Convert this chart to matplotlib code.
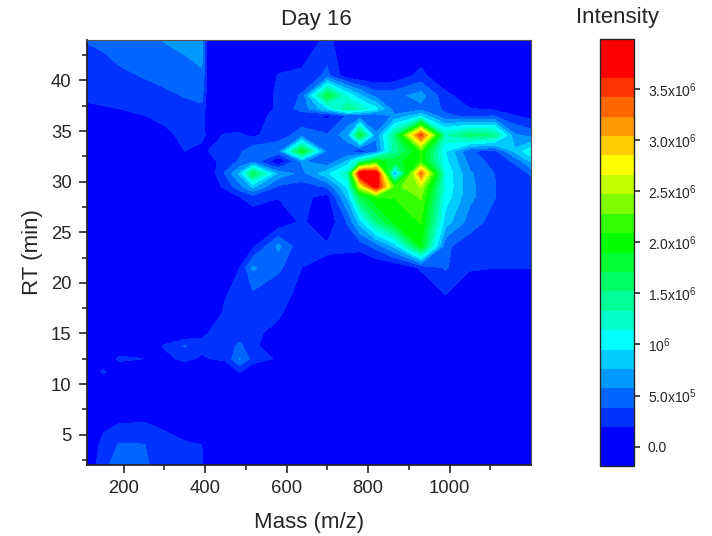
import numpy as np
import matplotlib
matplotlib.use('Agg')
import matplotlib.pyplot as plt

plt.rcParams['font.family'] = ['Liberation Sans', 'DejaVu Sans']
plt.rcParams['mathtext.default'] = 'regular'

# values, intensity in units of 1e5
mass = [110, 150, 190, 250, 300, 350, 392, 410, 450, 485, 517, 580, 637, 700, 750, 780, 820, 865, 930, 990, 1050, 1110, 1160, 1200]
rt = [44, 40.5, 38.5, 37.2, 36.5, 34.6, 33, 32, 30.8, 29.5, 28.5, 26, 23.6, 21.5, 19, 17, 15, 13.8, 12.5, 11.2, 10, 8, 6, 4, 2]
intensity = [
    [3.9, 4.1, 4.6, 5.3, 5.8, 6.2, 6.4, 0, 0, 0, 0, 0, 0, 2.6, 0, 0, 0, 0, 0, 0, 0, 0, 0, 0],
    [2.8, 3.2, 3.5, 3.9, 4.4, 5, 5.5, 0, 0, 0, 0, 2.0, 2.4, 4.2, .5, 0, 0, .5, 2.5, 0, 0, 0, 0, 0],
    [2.2, 2.6, 3, 3.2, 3.4, 3.9, 4.3, 0, 0, 0, 0, 2.4, 4, 18, 11, 8, 5, 5, 6.5, 2.5, .5, 0, 0, 0],
    [1.6, 1.7, 1.9, 2.4, 2.8, 3.2, 3.4, 0, 0, 0, 0, 2.4, 4.5, 9, 15, 13, 10, 4.5, 5, 3.5, 2, 1.5, .5, 0],
    [1.2, 1.4, 1.6, 1.85, 2.3, 2.6, 3, 0, 0, 0, 1.5, 2.2, 2.8, 1.5, 4, 4, 4, 6, 9, 4, 3.5, 3.8, 2, 1.3],
    [.5, .5, .6, .8, 1.5, 2.3, 2.6, 1, 2.1, 2.2, 1.5, 3, 4.5, 4, 7, 18, 6, 15, 35, 13, 16, 15, 6, 5],
    [0, 0, 0, 0, .3, 1.9, 1, 2, 3, 3.5, 5, 5, 19, 5, 4, 2, 5, 14, 21, 9.5, 4, 3, 8, 11],
    [0, 0, 0, 0, 0, 0, .8, 1, 3, 4, 5, 0, 6, 4, 8, 14, 20, 18, 21, 10, 5, 3, 4, 8],
    [0, 0, 0, 0, 0, 0, 0, .5, 4, 8, 17, 7, 5, 9, 13, 39.5, 39.5, 6, 33, 11, 6, 3.8, 3, 4],
    [0, 0, 0, 0, 0, 0, 0, .3, 2.5, 5, 8, 3.5, 3, 4, 10, 26, 38, 22, 25, 11, 6.2, 3.9, 2.6, 3],
    [0, 0, 0, 0, 0, 0, 0, 0, 0, 1.9, 3, 2, 2.4, 1.2, 8, 17, 21, 21, 23, 10.5, 6.2, 3.9, 2.5, 2],
    [0, 0, 0, 0, 0, 0, 0, 0, 0, 0, 0, .5, 2.2, .5, 4, 8.5, 15, 19.5, 21, 8.5, 4.8, 3, 2.3, 2],
    [0, 0, 0, 0, 0, 0, 0, 0, .5, .3, 1.5, 6.2, 2.2, 2.2, 2.5, 2.5, 4.5, 8, 19, 4.2, 2.6, 2.4, 2, 2],
    [0, 0, 0, 0, 0, 0, 0, 0, .5, 1.9, 6, 4.2, 1.9, 1.4, .5, 0, 0, 0, 2.2, 4, 2.2, 1.95, 1.95, 1.95],
    [0, 0, 0, 0, 0, 0, 0, 0, 1.8, 2.3, 3.6, 2.5, 1.5, 0, 0, 0, 0, 0, 0, 2.1, 0, 0, 0, 0],
    [0, 0, 0, 0, 0, 0, 0, .8, 2.2, 2.4, 2.6, 2.3, 0, 0, 0, 0, 0, 0, 0, 0, 0, 0, 0, 0],
    [0, 0, 0, 0, 0, 0, 1.5, 2, 2.5, 2.8, 2.5, 1, 0, 0, 0, 0, 0, 0, 0, 0, 0, 0, 0, 0],
    [0, 0, 0, 0, 2.1, 4, 2.5, 2.6, 2.8, 4.2, 2.4, .3, 0, 0, 0, 0, 0, 0, 0, 0, 0, 0, 0, 0],
    [0, 0, 2.4, 1.9, 1.3, 2.4, 1.6, 1.9, 2.3, 5.8, 3, 1.6, 0, 0, 0, 0, 0, 0, 0, 0, 0, 0, 0, 0],
    [0, 2.3, 0, 0, 0, 0, 0, 0, 0, 2, 0, 0, 0, 0, 0, 0, 0, 0, 0, 0, 0, 0, 0, 0],
    [0, 0, 0, 0, 0, 0, 0, 0, 0, 0, 0, 0, 0, 0, 0, 0, 0, 0, 0, 0, 0, 0, 0, 0],
    [0, 0, 0, 0, 0, 0, 0, 0, 0, 0, 0, 0, 0, 0, 0, 0, 0, 0, 0, 0, 0, 0, 0, 0],
    [0, 1.4, 2, 2.1, 1.5, 1, .5, 0, 0, 0, 0, 0, 0, 0, 0, 0, 0, 0, 0, 0, 0, 0, 0, 0],
    [0, 2.6, 3.95, 3.85, 2.8, 2.1, 1.9, 0, 0, 0, 0, 0, 0, 0, 0, 0, 0, 0, 0, 0, 0, 0, 0, 0],
    [0, 3.4, 4.5, 4, 3.2, 2.5, 2.2, 0, 0, 0, 0, 0, 0, 0, 0, 0, 0, 0, 0, 0, 0, 0, 0, 0],
]

# contour bands of the colour scale
levels = [-1.9e5, 1.9e5, 3.8e5, 5.7e5, 7.6e5, 9.5e5, 11.4e5, 13.3e5, 15.2e5, 17.1e5, 19e5,
          20.9e5, 22.8e5, 24.7e5, 26.6e5, 28.5e5, 30.4e5, 32.3e5, 34.2e5, 36.1e5, 39.9e5]
band_colors = ['#0000ff', '#0033ff', '#0066ff', '#0099ff', '#00ccff', '#00ffff', '#00ffcc',
               '#00ff99', '#00ff66', '#00ff33', '#00ff00', '#33ff00', '#80ff00', '#c0ff00',
               '#ffff00', '#ffcc00', '#ff9900', '#ff6600', '#ff3300', '#ff0000']
cbar_ticks = [0, 5e5, 10e5, 15e5, 20e5, 25e5, 30e5, 35e5]
cbar_labels = ['0.0', '5.0x10$^{5}$', '10$^{6}$', '1.5x10$^{6}$', '2.0x10$^{6}$',
               '2.5x10$^{6}$', '3.0x10$^{6}$', '3.5x10$^{6}$']

W, H = 712, 536
TXT = '#262626'

fig = plt.figure(figsize=(W / 100, H / 100), dpi=100)
ax = fig.add_axes([87 / W, 1 - 465 / H, 444 / W, 425 / H])

z = np.array(intensity)[::-1] * 1e5
cf = ax.contourf(mass, np.array(rt)[::-1], z, levels=levels, colors=band_colors)

ax.set_xlim(110, 1200)
ax.set_ylim(2, 44)
ax.set_xticks([200, 400, 600, 800, 1000])
ax.set_xticks([300, 500, 700, 900, 1100], minor=True)
ax.set_yticks([5, 10, 15, 20, 25, 30, 35, 40])
ax.set_yticks([2.5, 7.5, 12.5, 17.5, 22.5, 27.5, 32.5, 37.5, 42.5], minor=True)
ax.tick_params(which='major', length=6, width=1.2, labelsize=13.3, labelcolor=TXT, color=TXT, pad=5)
ax.tick_params(which='minor', length=3.5, width=1.2, color=TXT)
ax.spines['left'].set_linewidth(1.3)
ax.spines['bottom'].set_linewidth(1.3)
ax.spines['top'].set_linewidth(0.8)
ax.spines['right'].set_linewidth(0.8)
for s in ['left', 'bottom']:
    ax.spines[s].set_color(TXT)
for s in ['top', 'right']:
    ax.spines[s].set_color('#555555')

ax.set_xlabel('Mass (m/z)', fontsize=16, color=TXT)
ax.xaxis.set_label_coords(0.5, (465 - 512) / 425)
ax.set_ylabel('RT (min)', fontsize=16, color=TXT)
ax.yaxis.set_label_coords((43 - 87) / 444, 0.5)
ax.set_title('Day 16', fontsize=16, color=TXT, x=(316 - 87) / 444, pad=11)

cax = fig.add_axes([600 / W, 1 - 466 / H, 34 / W, 427 / H])
cb = fig.colorbar(cf, cax=cax, spacing='proportional', drawedges=False)
cb.set_ticks(cbar_ticks)
cb.set_ticklabels(cbar_labels)
cb.minorticks_off()
cax.tick_params(length=4, width=1.2, labelsize=10, labelcolor=TXT, color=TXT, pad=6)
cb.outline.set_linewidth(1.0)
cb.outline.set_edgecolor(TXT)
fig.text(617 / W, 1 - 17 / H, 'Intensity', fontsize=16, color=TXT, ha='center', va='center')

fig.savefig('out.png', dpi=100)
